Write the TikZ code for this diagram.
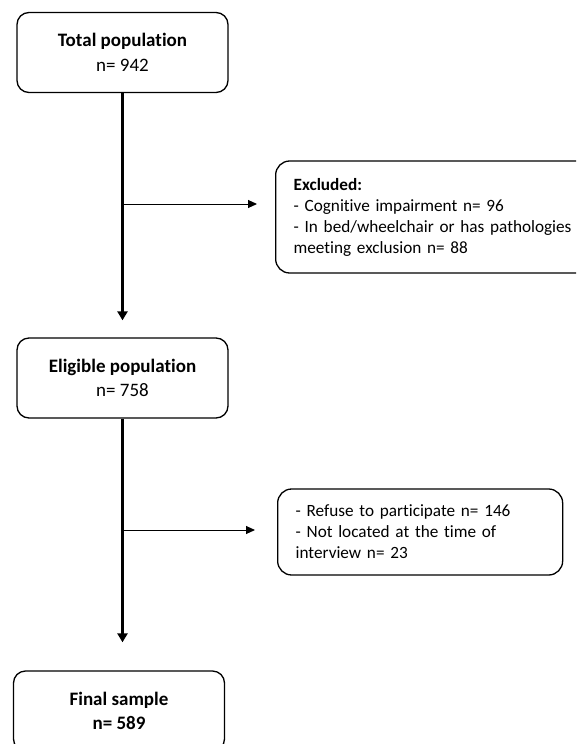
\documentclass[tikz,border=0pt]{standalone}
\usepackage{fontspec}
\setmainfont[Ligatures=NoCommon]{Carlito}
\usetikzlibrary{arrows.meta, calc}

\begin{document}
\begin{tikzpicture}[x=1pt, y=-1pt,
  stagebox/.style={draw, line width=1.3pt, rounded corners=12pt,
    minimum width=211pt, minimum height=80pt, align=center,
    font=\fontsize{19}{24.5}\selectfont},
  sidebox/.style={draw, line width=1.3pt, rounded corners=14pt, anchor=west,
    align=left, inner xsep=18pt, font=\fontsize{17.2}{21}\selectfont},
  mainflow/.style={line width=2.3pt, -{Triangle[length=9pt,width=10pt]}},
  sideflow/.style={line width=1pt, -{Triangle[length=9pt,width=8pt]}}]
  \clip (0,0) rectangle (576,744);
  % ---- main stages ----
  \node[stagebox] (total) at (122.5,52.5) {\textbf{Total population}\\n= 942};
  \node[stagebox] (eligible) at (122.5,378) {\textbf{Eligible population}\\n= 758};
  \node[stagebox] (final) at (119,711) {\textbf{Final sample}\\\textbf{n= 589}};
  % ---- exclusions ----
  \node[sidebox, text width=290pt, minimum height=112pt] (excl) at (275,217)
    {\textbf{Excluded:}\\- Cognitive impairment n= 96\\
     - In bed/wheelchair or has pathologies\\meeting exclusion n= 88};
  \node[sidebox, text width=249pt, minimum height=86pt] (refuse) at (277,532)
    {- Refuse to participate n= 146\\- Not located at the time of\\interview n= 23};
  % ---- connectors ----
  \coordinate (br1) at (122.5,204);
  \coordinate (br2) at (122.5,530);
  \draw[mainflow, shorten >=17pt] (total) -- (eligible);
  \draw[mainflow, shorten >=28pt] (eligible) -- (eligible |- final.north);
  \draw[sideflow, shorten >=18pt] (br1) -- (br1 -| excl.west);
  \draw[sideflow, shorten >=22pt] (br2) -- (br2 -| refuse.west);
\end{tikzpicture}
\end{document}
